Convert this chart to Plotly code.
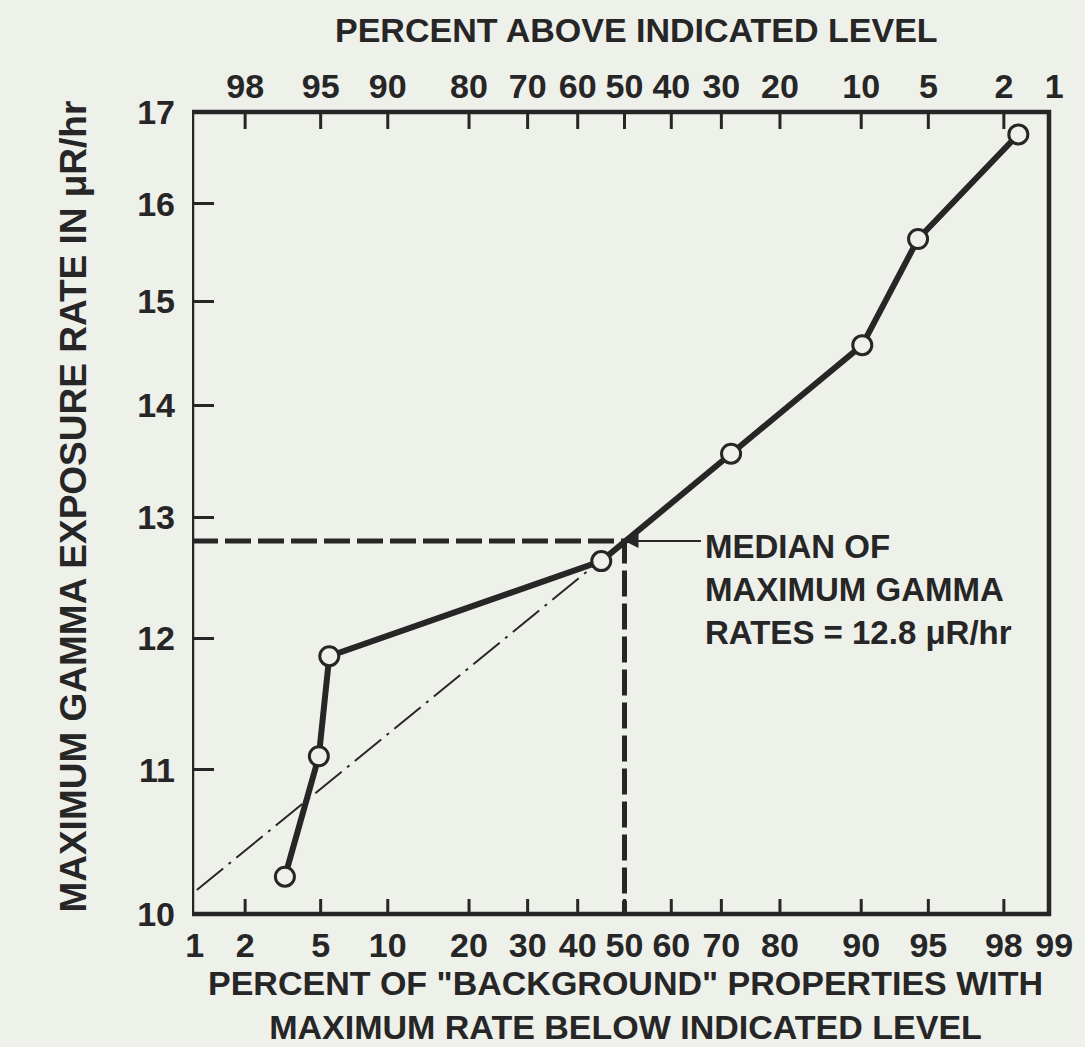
import math
import plotly.graph_objects as go
from statistics import NormalDist

_nd = NormalDist()


def probit(p):
    return _nd.inv_cdf(p / 100.0)


# ---------------- data ----------------
pct_below = [3.3, 4.9, 5.5, 45.0, 71.8, 90.1, 94.4, 98.35]
max_rate = [10.25, 11.10, 11.86, 12.63, 13.56, 14.57, 15.63, 16.75]

median_rate = 12.8
median_pct = 50

trend_pct = [1.03, 50]
trend_rate = [10.16, 12.8]

bottom_ticks = [1, 2, 5, 10, 20, 30, 40, 50, 60, 70, 80, 90, 95, 98, 99]
top_ticks = [98, 95, 90, 80, 70, 60, 50, 40, 30, 20, 10, 5, 2, 1]
y_ticks = [10, 11, 12, 13, 14, 15, 16, 17]
y_min, y_max = 10, 17

# ---------------- style ----------------
INK = "#262626"
BG = "#eef0ea"
FONT = "Liberation Sans"

box_left = probit(1) - 0.015
box_right = 2.298
x_range = [box_left, 2.336]

fig = go.Figure()

# dash-dot trend line
fig.add_trace(go.Scatter(
    x=[probit(p) for p in trend_pct], y=trend_rate, mode="lines",
    line=dict(color=INK, width=2, dash="34px,7px,3px,7px"),
    hoverinfo="skip", showlegend=False))

# median dashed lines
fig.add_trace(go.Scatter(
    x=[box_left, probit(median_pct), probit(median_pct)],
    y=[median_rate, median_rate, y_min], mode="lines",
    line=dict(color=INK, width=5, dash="26px,7px"),
    hoverinfo="skip", showlegend=False))

# main data line
fig.add_trace(go.Scatter(
    x=[probit(p) for p in pct_below], y=max_rate, mode="lines+markers",
    line=dict(color=INK, width=6),
    marker=dict(symbol="circle", size=19, color=BG,
                line=dict(color=INK, width=3)),
    showlegend=False))

# invisible trace on top axis
fig.add_trace(go.Scatter(x=x_range, y=[y_min, y_min], xaxis="x2", mode="markers",
                         marker=dict(opacity=0), hoverinfo="skip", showlegend=False))

shapes = []
# frame
shapes.append(dict(type="rect", xref="x", yref="paper", x0=box_left, x1=box_right,
                   y0=0, y1=1, line=dict(color=INK, width=4.5), layer="above"))
# bottom ticks
for p in bottom_ticks:
    z = probit(p)
    if box_left + 0.02 < z < box_right - 0.02:
        shapes.append(dict(type="line", xref="x", yref="paper", x0=z, x1=z,
                           y0=0, y1=15 / 802, line=dict(color=INK, width=3)))
# top ticks
for a in top_ticks:
    z = probit(100 - a)
    if box_left + 0.02 < z < box_right - 0.02:
        shapes.append(dict(type="line", xref="x", yref="paper", x0=z, x1=z,
                           y0=1, y1=1 - 17 / 802, line=dict(color=INK, width=3)))

tickfont = dict(family=FONT, size=34, color=INK, weight="bold")
titlefont = dict(family=FONT, size=34, color=INK, weight="bold")

fig.update_layout(
    width=1085, height=1047,
    margin=dict(l=192, r=23, t=112, b=133),
    paper_bgcolor=BG, plot_bgcolor=BG,
    shapes=shapes,
    xaxis=dict(range=x_range, tickvals=[probit(p) for p in bottom_ticks],
               ticktext=[str(p) for p in bottom_ticks], ticks="", showgrid=False,
               zeroline=False, showline=False, tickfont=tickfont,
               ticklabelstandoff=8),
    xaxis2=dict(range=x_range, overlaying="x", side="top",
                tickvals=[probit(100 - a) for a in top_ticks],
                ticktext=[str(a) for a in top_ticks], ticks="", showgrid=False,
                zeroline=False, showline=False, tickfont=tickfont,
                ticklabelstandoff=6),
    yaxis=dict(type="log", range=[1, math.log10(y_max)], tickvals=y_ticks,
               ticktext=[str(v) for v in y_ticks], ticks="inside", ticklen=22,
               tickwidth=3, tickcolor=INK, showgrid=False, zeroline=False,
               showline=False, tickfont=tickfont, ticklabelstandoff=16),
    annotations=[
        dict(text="PERCENT ABOVE INDICATED LEVEL", xref="paper", yref="paper",
             x=0.515, y=1.102, showarrow=False, font=titlefont,
             xanchor="center", yanchor="middle"),
        dict(text="PERCENT OF \"BACKGROUND\" PROPERTIES WITH<br>MAXIMUM RATE BELOW INDICATED LEVEL",
             xref="paper", yref="paper", x=0.502, y=-0.1135, showarrow=False,
             font=titlefont, xanchor="center", yanchor="middle"),
        dict(text="MAXIMUM GAMMA EXPOSURE RATE IN μR/hr", xref="paper", yref="paper",
             x=-0.137, y=0.5075, showarrow=False, textangle=-90,
             font=dict(family=FONT, size=37, color=INK, weight="bold"),
             xanchor="center", yanchor="middle"),
        dict(text="MEDIAN OF<br>MAXIMUM GAMMA<br>RATES = 12.8 μR/hr", xref="paper",
             yref="paper", x=0.592, y=0.404, showarrow=False, align="left",
             font=dict(family=FONT, size=33, color=INK, weight="bold"),
             xanchor="left", yanchor="middle"),
        dict(text="", x=probit(median_pct), y=math.log10(median_rate),
             xref="x", yref="y", ax=78, ay=0, showarrow=True, arrowhead=2,
             arrowsize=1.4, arrowwidth=2, arrowcolor=INK, standoff=0),
    ],
)

fig.write_html("out.html", post_script="document.body.style.margin='0';",
               config={"displayModeBar": False})
